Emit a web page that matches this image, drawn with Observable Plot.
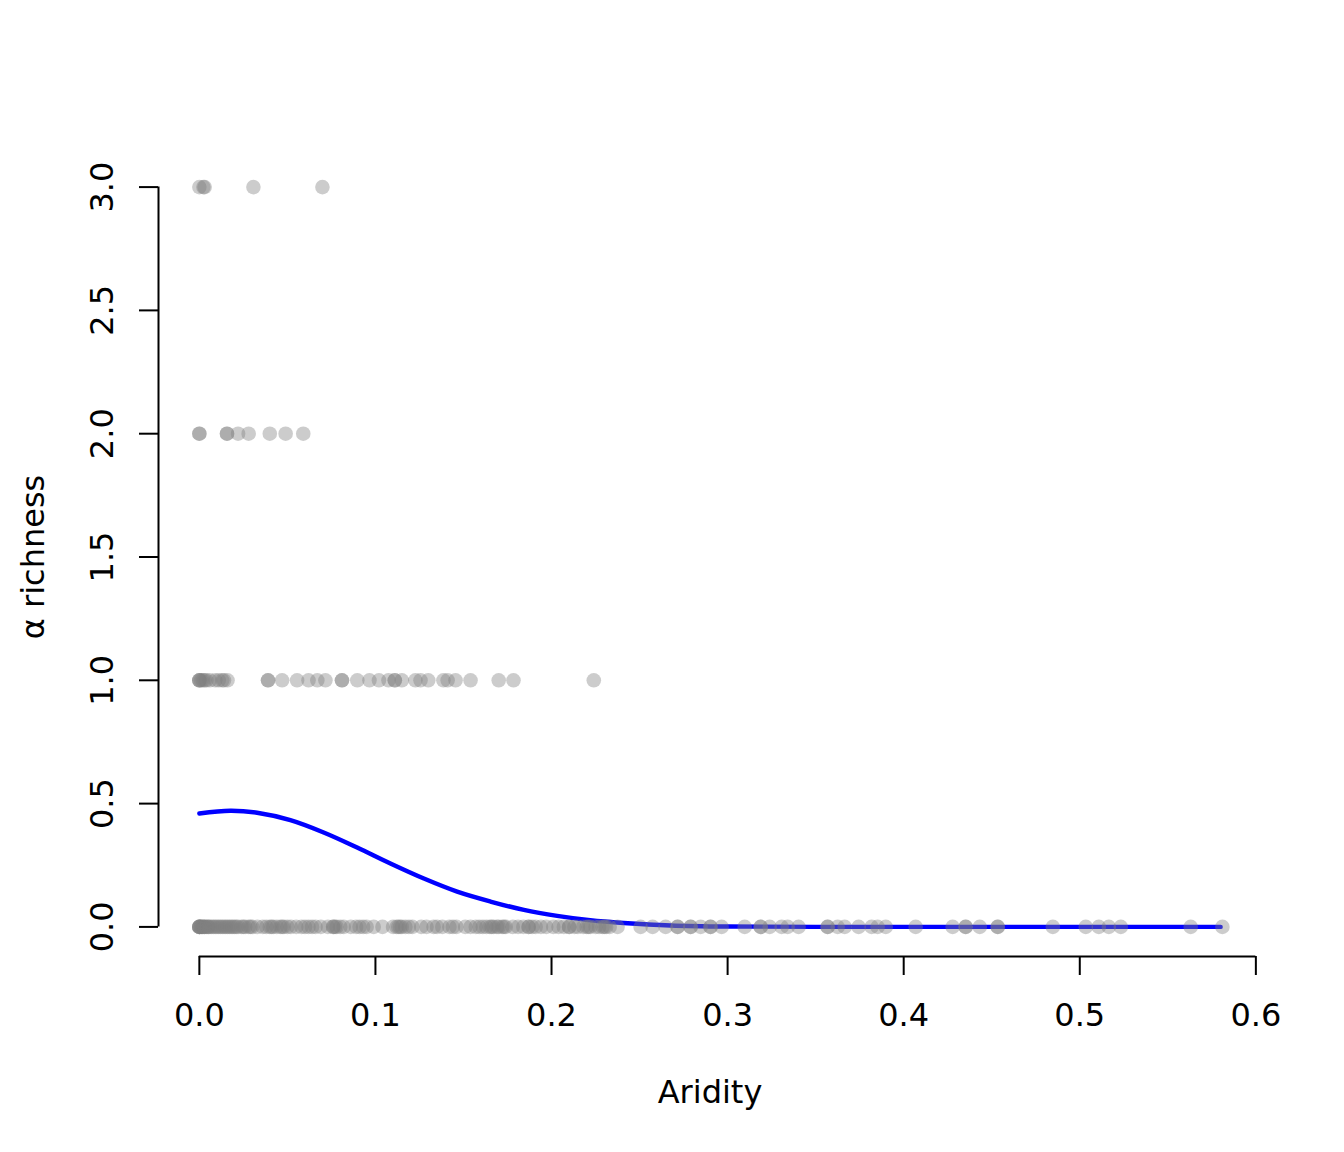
<!DOCTYPE html>
<html>
<head>
<meta charset="utf-8">
<script src="https://cdn.jsdelivr.net/npm/d3@7"></script>
<script src="https://cdn.jsdelivr.net/npm/@observablehq/plot@0.6"></script>
<style>
  html, body { margin: 0; padding: 0; background: #fff; }
</style>
</head>
<body>
<div id="chart"></div>
<script>
// Aridity values of the observations, grouped by alpha richness
const aridityRich0 = [
  0, 0, 0, 0, 0, 0.001, 0.001, 0.002, 0.002, 0.003, 0.003, 0.004, 0.005, 0.005, 0.006, 0.007,
  0.008, 0.009, 0.010, 0.011, 0.012, 0.013, 0.014, 0.015, 0.016, 0.017, 0.018, 0.019, 0.020,
  0.021, 0.022, 0.024, 0.025, 0.026, 0.028, 0.029, 0.030, 0.033,
  0.036, 0.038, 0.040, 0.041, 0.042, 0.044, 0.046, 0.047, 0.048, 0.050, 0.052, 0.055, 0.058,
  0.060, 0.062, 0.064, 0.066, 0.069,
  0.073, 0.076, 0.076, 0.077, 0.078, 0.080, 0.082, 0.086, 0.089, 0.091, 0.093, 0.095, 0.099,
  0.104, 0.110, 0.112, 0.113, 0.114, 0.115, 0.117, 0.119, 0.121, 0.126, 0.129,
  0.133, 0.135, 0.138, 0.142, 0.144, 0.146, 0.151, 0.154, 0.157, 0.159,
  0.161, 0.163, 0.165, 0.166, 0.167, 0.169, 0.170, 0.172, 0.173, 0.174, 0.178, 0.181, 0.184,
  0.187, 0.187, 0.189,
  0.191, 0.194, 0.197, 0.201, 0.204, 0.207, 0.210, 0.210, 0.213, 0.215, 0.218, 0.220, 0.221,
  0.222, 0.225, 0.227, 0.229, 0.230, 0.231, 0.233, 0.2375,
  0.2506, 0.2574, 0.2648, 0.2716, 0.2716, 0.279, 0.279, 0.2847, 0.2903, 0.2903, 0.2966,
  0.3097, 0.3188, 0.3188, 0.3239, 0.3307, 0.3341, 0.3403, 0.3568, 0.3568, 0.3625, 0.3665,
  0.3744, 0.3818, 0.3852, 0.3898, 0.4068, 0.4278, 0.4352, 0.4352, 0.4432, 0.4534, 0.4534,
  0.4847, 0.5034, 0.5108, 0.5165, 0.5233, 0.5630, 0.581
];
const aridityRich1 = [
  0, 0, 0, 0.001, 0.002, 0.003, 0.004, 0.006, 0.009, 0.011, 0.013, 0.014, 0.016,
  0.039, 0.039, 0.047, 0.0555, 0.062, 0.067, 0.0716, 0.081, 0.081, 0.0897, 0.0966, 0.102,
  0.1074, 0.111, 0.111, 0.115, 0.1227, 0.1256, 0.130, 0.1386, 0.141, 0.1455, 0.154,
  0.170, 0.1784, 0.224
];
const aridityRich2 = [0, 0, 0.0157, 0.0157, 0.022, 0.028, 0.040, 0.049, 0.059];
const aridityRich3 = [0, 0.0023, 0.003, 0.0307, 0.0699];

// Fitted curve
const curveX = [0, 0.0176, 0.0328, 0.0517, 0.0706, 0.0896, 0.1085, 0.1275, 0.1464, 0.1653,
  0.1843, 0.2032, 0.222, 0.241, 0.2676, 0.30, 0.35, 0.45, 0.58];
const curveY = [0.46, 0.471, 0.463, 0.433, 0.383, 0.322, 0.257, 0.196, 0.143, 0.103,
  0.069, 0.0447, 0.027, 0.016, 0.006, 0.0015, 0.0003, 0, 0];

const xTicks = [0, 0.1, 0.2, 0.3, 0.4, 0.5, 0.6];
const yTicks = [0, 0.5, 1, 1.5, 2, 2.5, 3];
const xTitle = "Aridity";
const yTitle = "\u03b1 richness";

const points = [
  ...aridityRich0.map(x => ({x, y: 0})),
  ...aridityRich1.map(x => ({x, y: 1})),
  ...aridityRich2.map(x => ({x, y: 2})),
  ...aridityRich3.map(x => ({x, y: 3}))
];
const curve = curveX.map((x, i) => ({x, y: curveY[i]}));

const fmt = d3.format(".1f");

const chart = Plot.plot({
  width: 1344,
  height: 1152,
  marginLeft: 158,
  marginRight: 83,
  marginTop: 157,
  marginBottom: 196,
  style: {fontFamily: "DejaVu Sans", fontSize: "32px", background: "#fff", color: "#000"},
  x: {domain: [-0.0232, 0.6032]},
  y: {domain: [-0.12, 3.12]},
  marks: [
    Plot.ruleY([-0.12], {x1: 0, x2: 0.6, stroke: "#000", strokeWidth: 2}),
    Plot.ruleX([-0.0232], {y1: 0, y2: 3, stroke: "#000", strokeWidth: 2}),
    Plot.axisX(xTicks, {anchor: "bottom", label: null, tickSize: 19, strokeWidth: 2, tickFormat: () => ""}),
    Plot.axisY(yTicks, {anchor: "left", label: null, tickSize: 19, strokeWidth: 2, tickFormat: () => ""}),
    Plot.text(xTicks, {x: d => d, frameAnchor: "bottom", dy: 69, lineAnchor: "bottom",
      text: d => fmt(d), fontSize: 32, fill: "#000"}),
    Plot.text(yTicks, {y: d => d, frameAnchor: "left", dx: -46, rotate: -90,
      lineAnchor: "bottom", textAnchor: "middle", text: d => fmt(d), fontSize: 32, fill: "#000"}),
    Plot.text([xTitle], {frameAnchor: "bottom", dy: 146, lineAnchor: "bottom",
      fontSize: 32, fill: "#000"}),
    Plot.text([yTitle], {frameAnchor: "left", dx: -115, rotate: -90, lineAnchor: "bottom",
      textAnchor: "middle", fontSize: 32, fill: "#000"}),
    Plot.line(curve, {x: "x", y: "y", stroke: "#0000ff", strokeWidth: 4.4, curve: "catmull-rom"}),
    Plot.dot(points, {x: "x", y: "y", r: 7.3, fill: "#808080", fillOpacity: 0.4, stroke: "none"})
  ]
});
document.getElementById("chart").appendChild(chart);
</script>
</body>
</html>
